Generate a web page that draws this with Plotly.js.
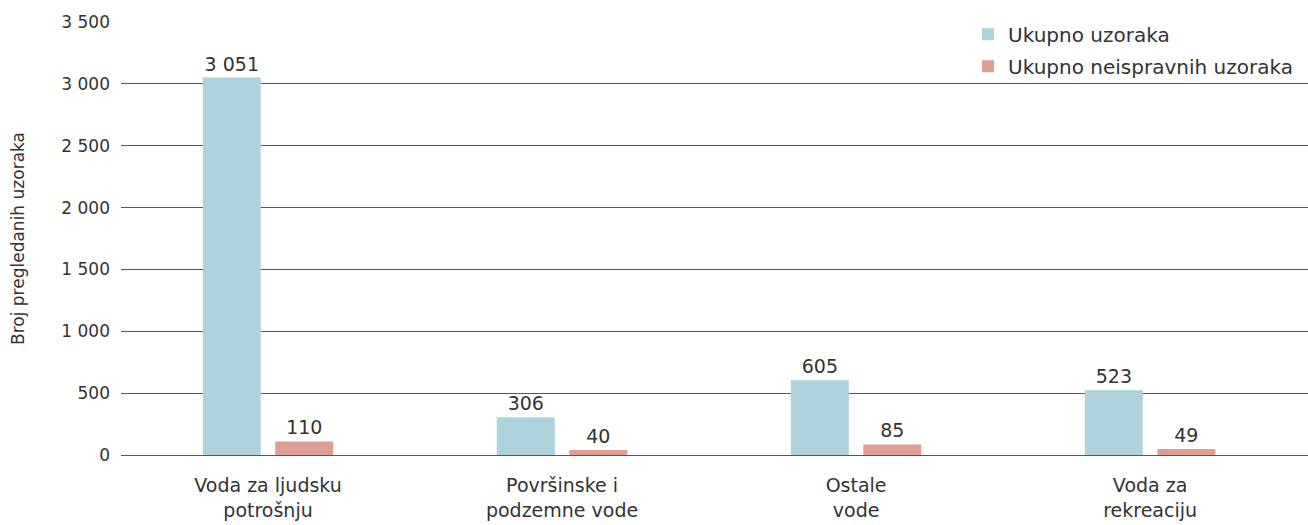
<!DOCTYPE html>
<html>
<head>
<meta charset="utf-8">
<script src="https://cdn.plot.ly/plotly-3.0.1.min.js"></script>
<style>html,body{margin:0;padding:0;background:#fff;}#chart{width:1308px;height:525px;}</style>
</head>
<body>
<div id="chart"></div>
<script>
var categories = ["Voda za ljudsku<br>potrošnju", "Površinske i<br>podzemne vode", "Ostale<br>vode", "Voda za<br>rekreaciju"];
var seriesNames = ["Ukupno uzoraka", "Ukupno neispravnih uzoraka"];
var totalSamples = [3051, 306, 605, 523];
var badSamples = [110, 40, 85, 49];
var yTicks = [0, 500, 1000, 1500, 2000, 2500, 3000, 3500];

var font = "'DejaVu Sans', sans-serif";
var txt = "#333";
function mk(name, vals, color, grp) {
  return {
    type: "bar", name: name, x: categories, y: vals, legendgroup: grp,
    marker: {color: color},
    text: vals, texttemplate: "%{y:,}", textposition: "outside",
    textfont: {family: font, size: 19, color: txt},
    cliponaxis: false, hoverinfo: "skip"
  };
}
var data = [mk(seriesNames[0], totalSamples, "#aed3dc", "a"), mk(seriesNames[1], badSamples, "#e09d94", "b")];
var layout = {
  width: 1308, height: 525,
  margin: {l: 121, r: 0, t: 22, b: 70},
  separators: ", ",
  paper_bgcolor: "#fff", plot_bgcolor: "#fff",
  barmode: "group", bargap: 0.507, bargroupgap: 0.2,
  font: {family: font, color: txt, size: 16},
  showlegend: true,
  legend: {x: 0.9916, xanchor: "right", y: 1.017, yanchor: "top", bgcolor: "rgba(0,0,0,0)",
           font: {family: font, size: 20, color: txt}, itemwidth: 30, tracegroupgap: 3},
  xaxis: {range: [-0.5, 3.537], showgrid: false, zeroline: false, showline: false, ticks: "",
          ticklabelstandoff: 17,
          tickfont: {family: font, size: 19, color: txt}, fixedrange: true},
  yaxis: {range: [0, 3500], tickvals: yTicks, separatethousands: true, tickformat: ",",
          showgrid: true, gridcolor: "#555", gridwidth: 1, zeroline: true, zerolinecolor: "#555", zerolinewidth: 1,
          ticks: "", ticklabelstandoff: 10, showline: false,
          tickfont: {family: font, size: 17, color: txt},
          title: {text: "Broj pregledanih uzoraka", font: {family: font, size: 17, color: txt}, standoff: 32}}
};
Plotly.newPlot("chart", data, layout, {staticPlot: true});
</script>
</body>
</html>
